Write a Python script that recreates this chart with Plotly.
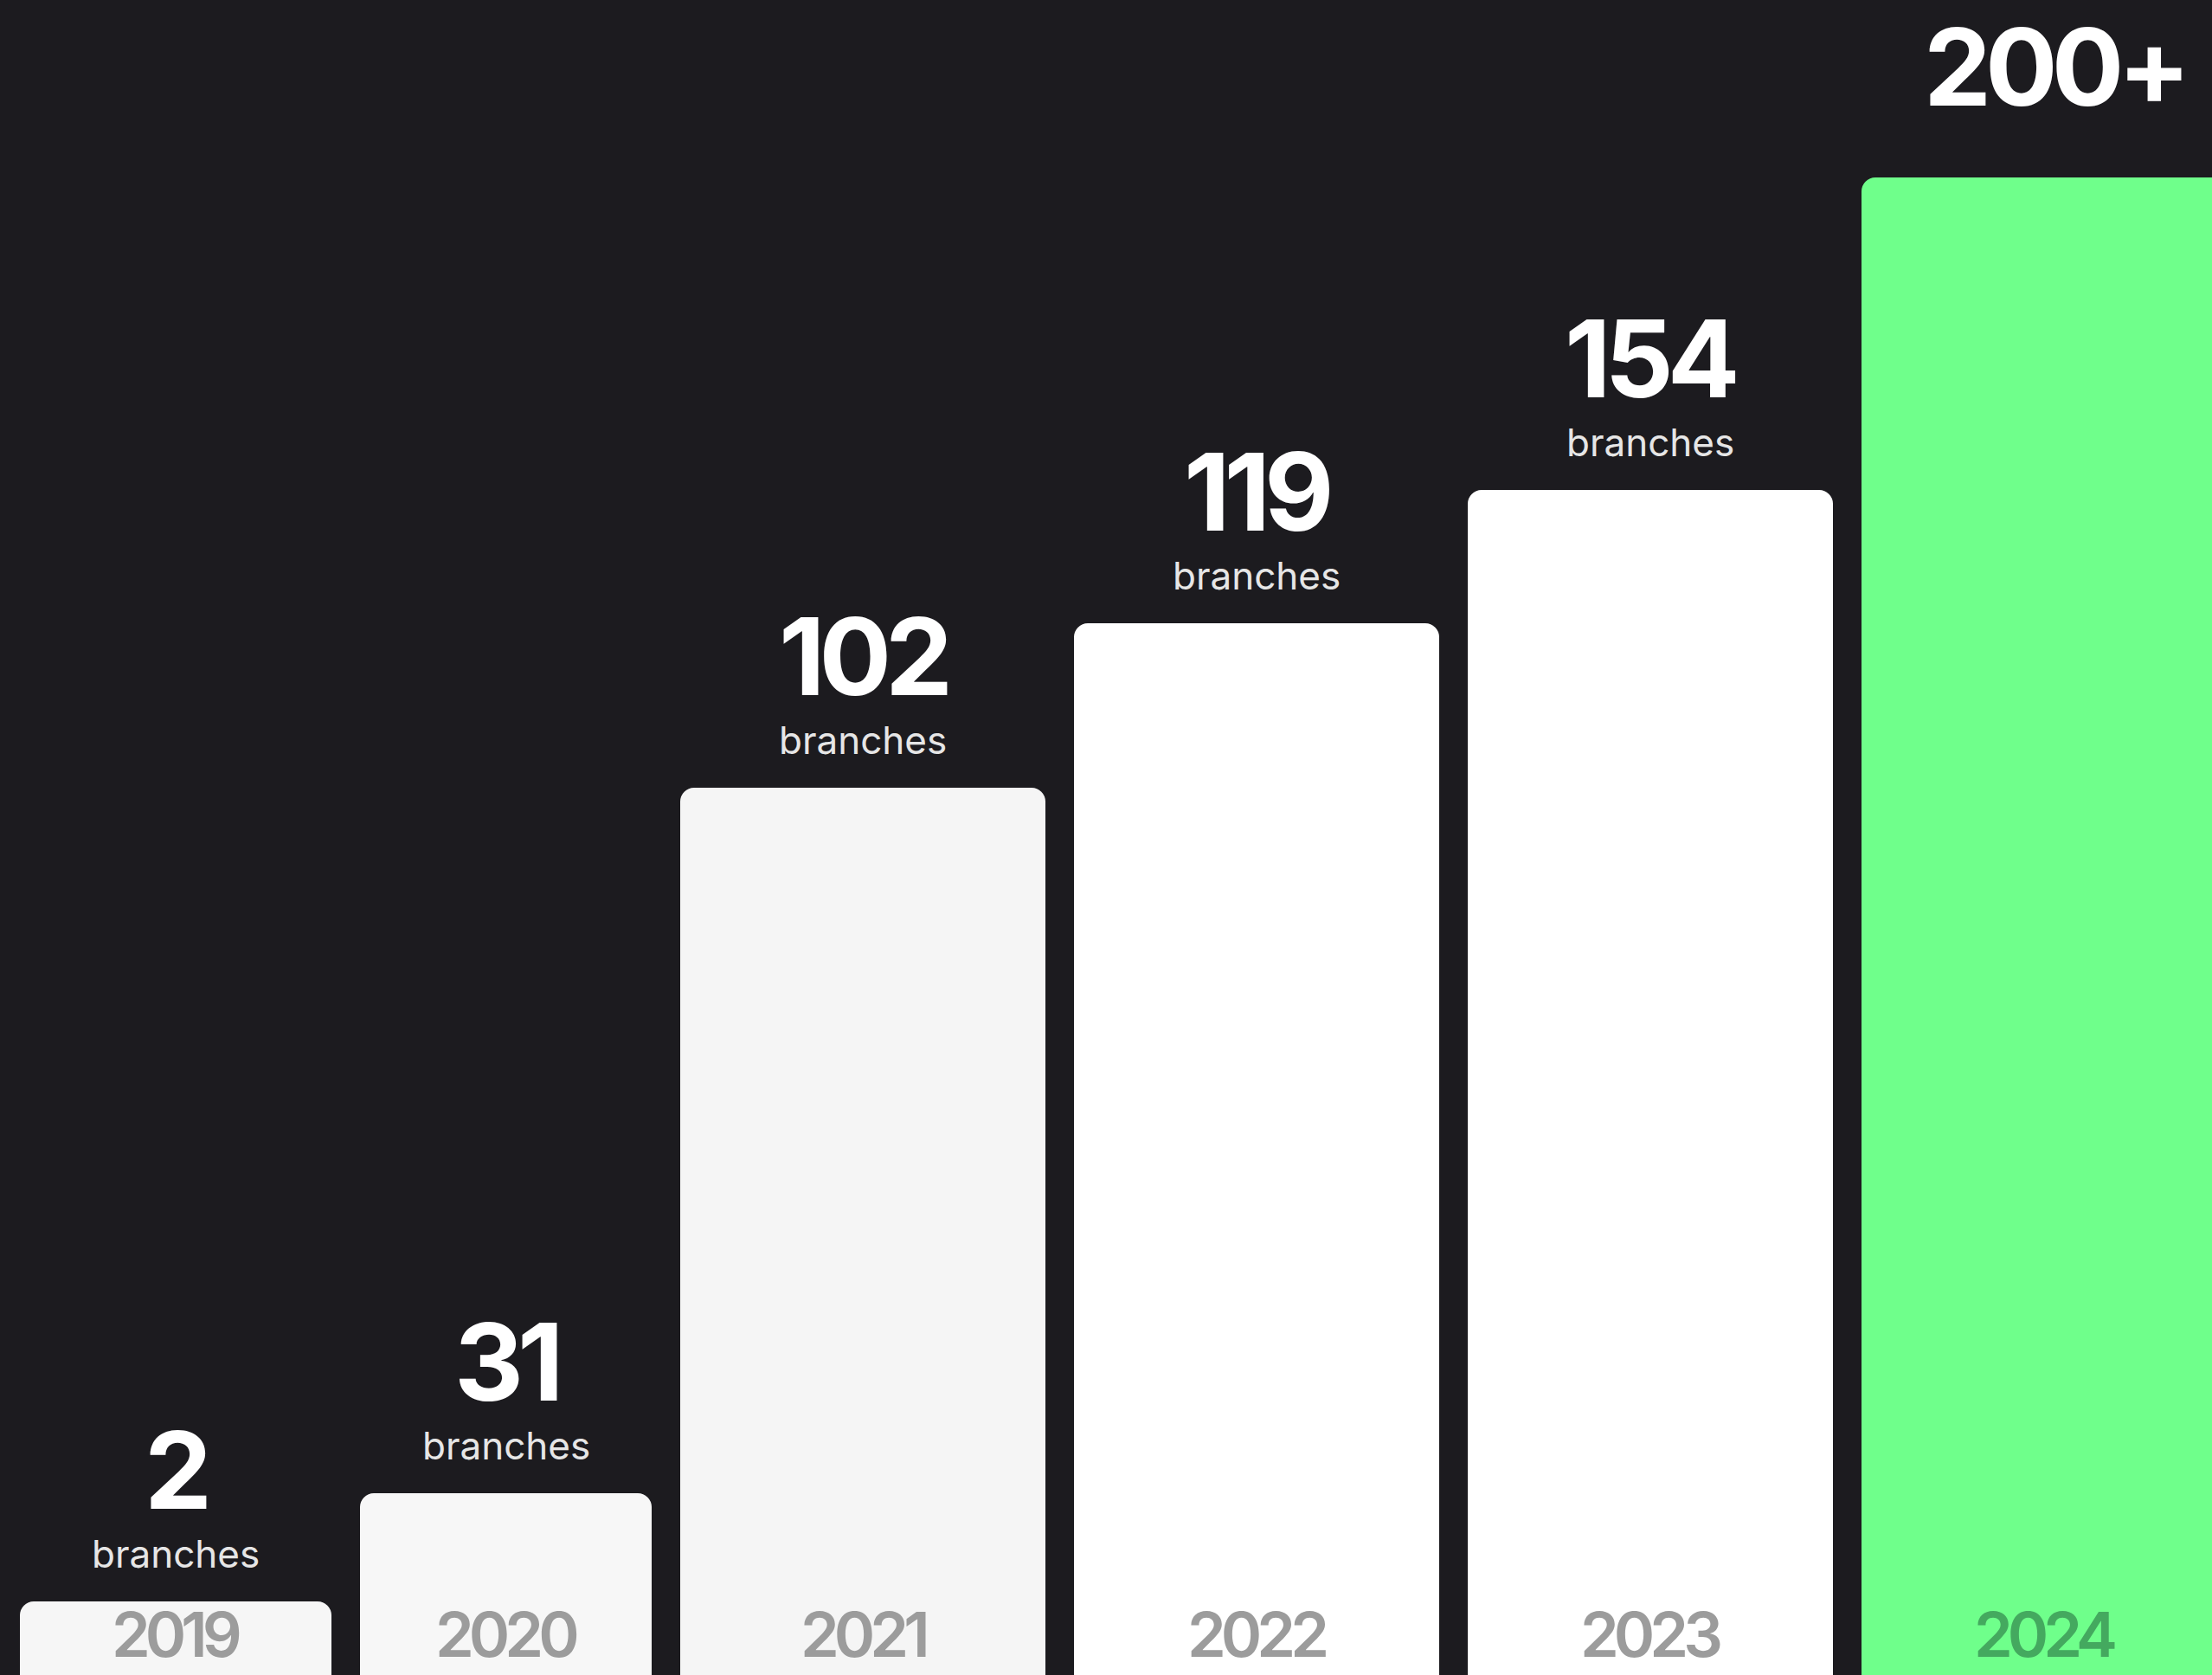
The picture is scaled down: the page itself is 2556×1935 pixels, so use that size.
import plotly.graph_objects as go

# ---- data ----
years = ["2019", "2020", "2021", "2022", "2023", "2024"]
value_labels = ["2", "31", "102", "119", "154", "200+"]
sub_labels = ["branches", "branches", "branches", "branches", "branches", ""]
# visual bar heights (bars are not drawn proportionally to the counts)
bar_heights = [85, 210, 1025, 1215, 1369, 1730]

# ---- styling ----
W, H = 2556, 1935
bg = "#1c1b1f"
bar_widths = [360, 337, 422, 422, 422, 422]
gap = 33
start = 23
bar_colors = ["#f6f6f6", "#f7f7f7", "#f5f5f5", "#ffffff", "#ffffff", "#6fff8b"]
year_colors = ["#9c9c9c"] * 5 + ["#44a95f"]

centers = []
left = start
for w in bar_widths:
    centers.append(left + w / 2)
    left += w + gap

fig = go.Figure()
fig.add_trace(go.Bar(
    x=centers, y=bar_heights, width=bar_widths,
    marker=dict(color=bar_colors, line=dict(width=0)),
    hoverinfo="skip",
))

annotations = []
for cx, h, v, s, yr, yc in zip(centers, bar_heights, value_labels, sub_labels, years, year_colors):
    num_shift = 152 if s else 128
    annotations.append(dict(
        x=cx, y=h, xref="x", yref="y", yanchor="middle", xanchor="center",
        yshift=num_shift, xshift=0 if s else 12, showarrow=False,
        text=f'<span style="letter-spacing:-7px">{v}</span>',
        font=dict(family="Inter", size=124, color="#ffffff", weight=700),
    ))
    if s:
        annotations.append(dict(
            x=cx, y=h, xref="x", yref="y", yanchor="middle", xanchor="center",
            yshift=55, showarrow=False, text=s,
            font=dict(family="Inter", size=44, color="#e6e6e6", weight=400),
        ))
    annotations.append(dict(
        x=cx, y=0, xref="x", yref="y", yanchor="middle", xanchor="center",
        yshift=48, showarrow=False,
        text=f'<span style="letter-spacing:-6px">{yr}</span>',
        font=dict(family="Inter", size=72, color=yc, weight=600),
    ))

fig.update_layout(
    width=W, height=H,
    margin=dict(l=0, r=0, t=0, b=0),
    paper_bgcolor=bg, plot_bgcolor=bg,
    barcornerradius=16,
    showlegend=False,
    xaxis=dict(range=[0, W], visible=False, fixedrange=True),
    yaxis=dict(range=[0, H], visible=False, fixedrange=True),
    annotations=annotations,
)

fig.write_html("out.html")
